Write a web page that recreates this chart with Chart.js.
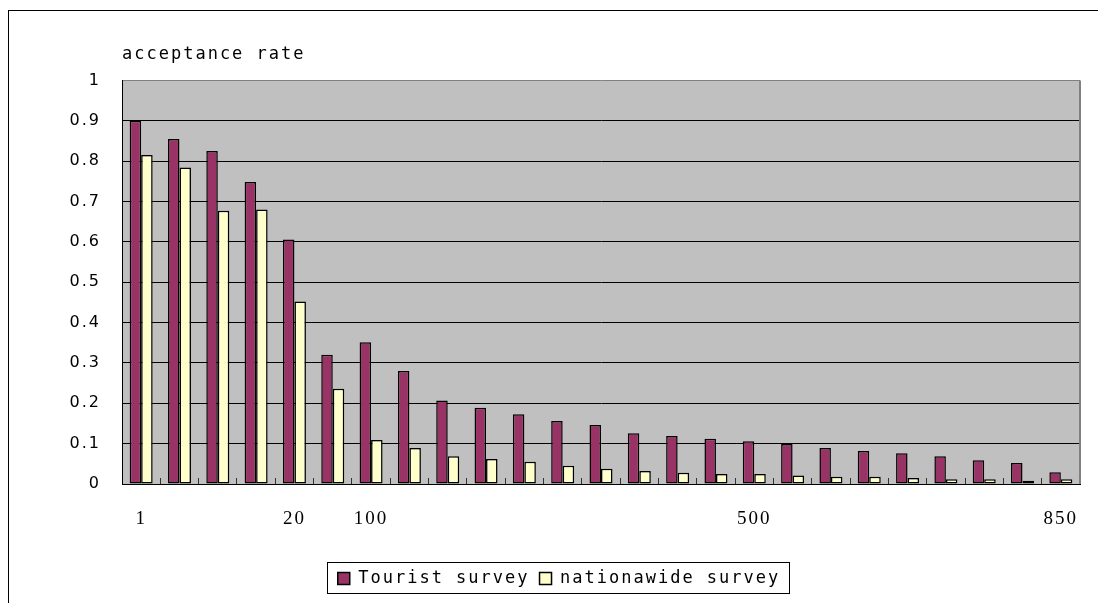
<!DOCTYPE html>
<html>
<head>
<meta charset="utf-8">
<title>acceptance rate</title>
<script src="https://cdn.jsdelivr.net/npm/chart.js@4.4.1/dist/chart.umd.min.js"></script>
<style>
  html, body { margin: 0; padding: 0; background: #fff; overflow: hidden; }
  canvas { display: block; }
</style>
</head>
<body>
<canvas id="rateChart" width="1098" height="603"></canvas>
<script>
"use strict";

// rank under each group, only a few are labelled
const rankLabels = ["1", "", "", "", "20", "", "100", "", "", "", "", "", "", "", "", "", "500", "", "", "", "", "", "", "", "850"];
const touristRates = [0.9, 0.855, 0.825, 0.748, 0.606, 0.32, 0.351, 0.28, 0.207, 0.189, 0.173, 0.156, 0.146, 0.126, 0.119, 0.112, 0.106, 0.099, 0.089, 0.082, 0.076, 0.069, 0.059, 0.052, 0.029];
const nationwideRates = [0.815, 0.784, 0.677, 0.68, 0.452, 0.236, 0.109, 0.089, 0.069, 0.062, 0.055, 0.045, 0.038, 0.032, 0.028, 0.025, 0.025, 0.021, 0.018, 0.018, 0.015, 0.012, 0.012, 0.008, 0.012];
const yTicks = [0, 0.1, 0.2, 0.3, 0.4, 0.5, 0.6, 0.7, 0.8, 0.9, 1];

const SPACING = "2px";

// grey plot area, outer frame, right edge and box round the legend
const frame = {
  id: "frame",
  beforeUpdate(chart) {
    chart.ctx.letterSpacing = SPACING; // wide lettering, set before text gets measured
  },
  beforeDraw(chart) {
    const { ctx, chartArea: a } = chart;
    ctx.letterSpacing = SPACING;
    ctx.save();
    ctx.fillStyle = "#c0c0c0";
    ctx.fillRect(a.left, a.top, a.right - a.left, a.bottom - a.top);
    ctx.strokeStyle = "#000";
    ctx.lineWidth = 1;
    ctx.strokeRect(8.5, 10.5, 2000, 2000);
    ctx.restore();
  },
  beforeDatasetsDraw(chart) {
    const { ctx, chartArea: a } = chart;
    ctx.save();
    ctx.strokeStyle = "#808080";
    ctx.lineWidth = 2;
    ctx.beginPath();
    ctx.moveTo(a.right, a.top);
    ctx.lineTo(a.right, a.bottom);
    ctx.stroke();
    ctx.restore();
  },
  afterDraw(chart) {
    const boxes = chart.legend && chart.legend.legendHitBoxes;
    if (!boxes || !boxes.length) return;
    const left = Math.min(...boxes.map(b => b.left)) - 11;
    const right = Math.max(...boxes.map(b => b.left + b.width)) + 8;
    const top = Math.min(...boxes.map(b => b.top)) - 8;
    const bottom = Math.max(...boxes.map(b => b.top + b.height)) + 6;
    const ctx = chart.ctx;
    ctx.save();
    ctx.strokeStyle = "#000";
    ctx.lineWidth = 1;
    ctx.strokeRect(Math.round(left) + 0.5, Math.round(top) + 0.5, Math.round(right - left), Math.round(bottom - top));
    ctx.restore();
  }
};

Chart.defaults.color = "#000";

const ctx = document.getElementById("rateChart").getContext("2d");
const rateChart = new Chart(ctx, {
  type: "bar",
  data: {
    labels: rankLabels,
    datasets: [
      { label: "Tourist survey", data: touristRates, backgroundColor: "#993366", borderColor: "#000", borderWidth: 1.5, borderSkipped: false },
      { label: "nationawide survey", data: nationwideRates, backgroundColor: "#ffffcc", borderColor: "#000", borderWidth: 1.5, borderSkipped: false }
    ]
  },
  options: {
    responsive: false,
    animation: false,
    categoryPercentage: 0.6,
    barPercentage: 1.0,
    layout: { padding: { top: 0, left: 38, right: 18, bottom: 6 } },
    scales: {
      x: {
        offset: true,
        grid: { offset: true, drawOnChartArea: false, drawTicks: true, tickLength: -6, tickColor: "#333", lineWidth: 1 },
        border: { color: "#000", width: 1 },
        ticks: { autoSkip: false, maxRotation: 0, padding: 30, font: { family: "Liberation Serif", size: 19 } },
        afterFit(scale) {
          scale.height = 76;
          scale.paddingLeft = 0;
          scale.paddingRight = 0; // last label may overhang, keep plot edge put
        }
      },
      y: {
        min: 0,
        max: 1,
        afterBuildTicks(scale) { scale.ticks = yTicks.map(v => ({ value: v })); },
        grid: { drawTicks: false, lineWidth: 1, color: c => (c.tick && c.tick.value === 1 ? "#808080" : "#000") },
        border: { color: "#000", width: 1 },
        ticks: { padding: 21, font: { family: "DejaVu Sans", size: 16 }, callback: v => String(v) },
        afterFit(scale) { scale.width = 84; }
      }
    },
    plugins: {
      title: {
        display: true,
        text: "acceptance rate",
        align: "start",
        fullSize: false,
        color: "#000",
        font: { family: "DejaVu Sans Mono", size: 17, weight: "normal", lineHeight: 1.2 },
        padding: { top: 44, bottom: 16 }
      },
      legend: {
        position: "bottom",
        labels: { boxWidth: 12, boxHeight: 12, padding: 10, color: "#000", font: { family: "DejaVu Sans Mono", size: 17 } }
      },
      tooltip: { enabled: false }
    }
  },
  plugins: [frame]
});
</script>
</body>
</html>
